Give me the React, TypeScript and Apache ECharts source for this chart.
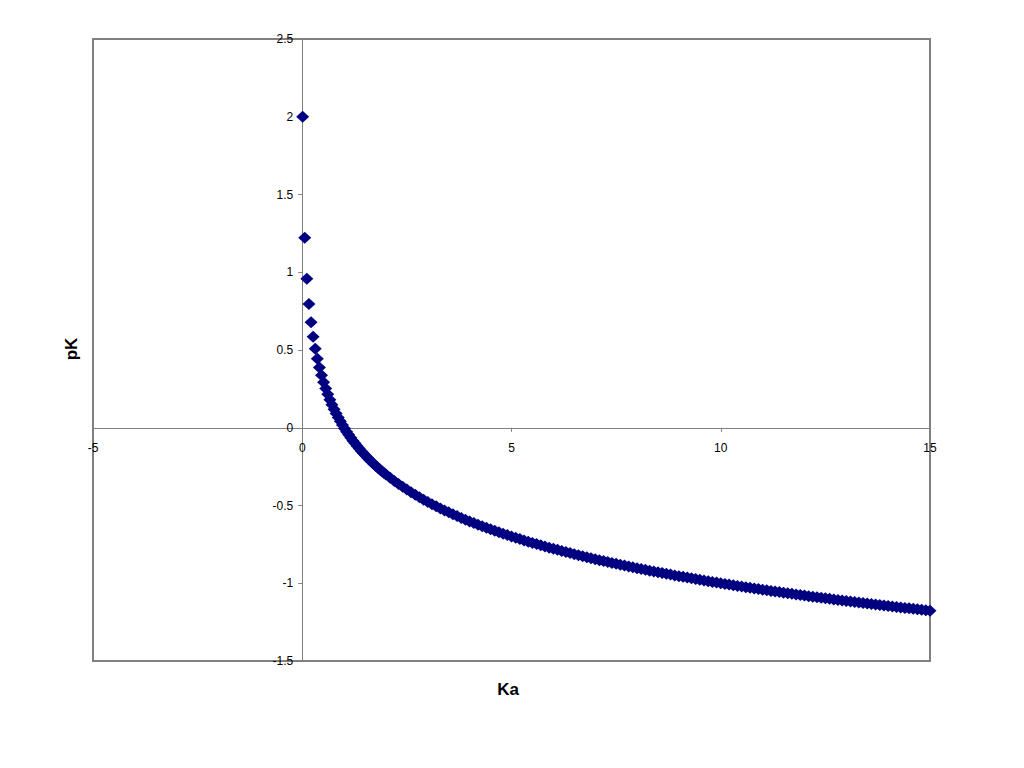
import React, { useEffect, useRef } from "react";
import * as echarts from "echarts";

// Ka values (x) and pK values (y)
const kaLow = [
  0.01, 0.06, 0.11, 0.16, 0.21, 0.26, 0.31, 0.36, 0.41, 0.46,
  0.51, 0.56, 0.61, 0.66, 0.71, 0.76, 0.81, 0.86, 0.91, 0.96,
  1.01, 1.06, 1.11, 1.16, 1.21, 1.26, 1.31, 1.36, 1.41, 1.46,
  1.51, 1.56, 1.61, 1.66, 1.71, 1.76, 1.81, 1.86, 1.91, 1.96,
];
const pkLow = [
  2.0, 1.2218, 0.9586, 0.7959, 0.6778, 0.585, 0.5086, 0.4437, 0.3872, 0.3372,
  0.2924, 0.2518, 0.2147, 0.1805, 0.1487, 0.1192, 0.0915, 0.0655, 0.041, 0.0177,
  -0.0043, -0.0253, -0.0453, -0.0645, -0.0828, -0.1004, -0.1173, -0.1335, -0.1492, -0.1644,
  -0.179, -0.1931, -0.2068, -0.2201, -0.233, -0.2455, -0.2577, -0.2695, -0.281, -0.2923,
];

const kaHigh = [
  2.0, 2.1, 2.2, 2.3, 2.4, 2.5, 2.6, 2.7, 2.8, 2.9,
  3.0, 3.1, 3.2, 3.3, 3.4, 3.5, 3.6, 3.7, 3.8, 3.9,
  4.0, 4.1, 4.2, 4.3, 4.4, 4.5, 4.6, 4.7, 4.8, 4.9,
  5.0, 5.1, 5.2, 5.3, 5.4, 5.5, 5.6, 5.7, 5.8, 5.9,
  6.0, 6.1, 6.2, 6.3, 6.4, 6.5, 6.6, 6.7, 6.8, 6.9,
  7.0, 7.1, 7.2, 7.3, 7.4, 7.5, 7.6, 7.7, 7.8, 7.9,
  8.0, 8.1, 8.2, 8.3, 8.4, 8.5, 8.6, 8.7, 8.8, 8.9,
  9.0, 9.1, 9.2, 9.3, 9.4, 9.5, 9.6, 9.7, 9.8, 9.9,
  10.0, 10.1, 10.2, 10.3, 10.4, 10.5, 10.6, 10.7, 10.8, 10.9,
  11.0, 11.1, 11.2, 11.3, 11.4, 11.5, 11.6, 11.7, 11.8, 11.9,
  12.0, 12.1, 12.2, 12.3, 12.4, 12.5, 12.6, 12.7, 12.8, 12.9,
  13.0, 13.1, 13.2, 13.3, 13.4, 13.5, 13.6, 13.7, 13.8, 13.9,
  14.0, 14.1, 14.2, 14.3, 14.4, 14.5, 14.6, 14.7, 14.8, 14.9,
  15.0,
];
const pkHigh = [
  -0.301, -0.3222, -0.3424, -0.3617, -0.3802, -0.3979, -0.415, -0.4314, -0.4472, -0.4624,
  -0.4771, -0.4914, -0.5051, -0.5185, -0.5315, -0.5441, -0.5563, -0.5682, -0.5798, -0.5911,
  -0.6021, -0.6128, -0.6232, -0.6335, -0.6435, -0.6532, -0.6628, -0.6721, -0.6812, -0.6902,
  -0.699, -0.7076, -0.716, -0.7243, -0.7324, -0.7404, -0.7482, -0.7559, -0.7634, -0.7709,
  -0.7782, -0.7853, -0.7924, -0.7993, -0.8062, -0.8129, -0.8195, -0.8261, -0.8325, -0.8388,
  -0.8451, -0.8513, -0.8573, -0.8633, -0.8692, -0.8751, -0.8808, -0.8865, -0.8921, -0.8976,
  -0.9031, -0.9085, -0.9138, -0.9191, -0.9243, -0.9294, -0.9345, -0.9395, -0.9445, -0.9494,
  -0.9542, -0.959, -0.9638, -0.9685, -0.9731, -0.9777, -0.9823, -0.9868, -0.9912, -0.9956,
  -1.0, -1.0043, -1.0086, -1.0128, -1.017, -1.0212, -1.0253, -1.0294, -1.0334, -1.0374,
  -1.0414, -1.0453, -1.0492, -1.0531, -1.0569, -1.0607, -1.0645, -1.0682, -1.0719, -1.0755,
  -1.0792, -1.0828, -1.0864, -1.0899, -1.0934, -1.0969, -1.1004, -1.1038, -1.1072, -1.1106,
  -1.1139, -1.1173, -1.1206, -1.1239, -1.1271, -1.1303, -1.1335, -1.1367, -1.1399, -1.143,
  -1.1461, -1.1492, -1.1523, -1.1553, -1.1584, -1.1614, -1.1644, -1.1673, -1.1703, -1.1732,
  -1.1761,
];

const xTitle = "Ka";
const yTitle = "pK";

const X_MIN = -5;
const X_MAX = 15;
const Y_MIN = -1.5;
const Y_MAX = 2.5;

export default function App() {
  const ref = useRef<HTMLDivElement>(null);

  useEffect(() => {
    if (!ref.current) return;
    const chart = echarts.init(ref.current, null, { renderer: "svg" });
    const ka = [...kaLow, ...kaHigh];
    const pk = [...pkLow, ...pkHigh];
    const data = ka.map((x, i) => [x, pk[i]]);
    const font = "'Liberation Sans', Arial, sans-serif";

    const gridLeft = 93;
    const gridTop = 39;
    const gridRight = 94;
    const gridBottom = 107;
    const gw = 1024 - gridLeft - gridRight;
    const gh = 768 - gridTop - gridBottom;
    // move axes so they cross at the origin (labels follow)
    const xOffset = -(gh * (0 - Y_MIN)) / (Y_MAX - Y_MIN);
    const yOffset = -(gw * (0 - X_MIN)) / (X_MAX - X_MIN);

    chart.setOption({
      animation: false,
      backgroundColor: "#ffffff",
      grid: {
        left: gridLeft,
        top: gridTop,
        right: gridRight,
        bottom: gridBottom,
        show: true,
        borderColor: "#808080",
        borderWidth: 2,
        backgroundColor: "transparent",
      },
      xAxis: {
        type: "value",
        min: X_MIN,
        max: X_MAX,
        interval: 5,
        position: "bottom",
        offset: xOffset,
        axisLine: { show: true, onZero: false, lineStyle: { color: "#808080", width: 1 } },
        axisTick: { show: true, length: 4, lineStyle: { color: "#808080" } },
        splitLine: { show: false },
        axisLabel: { color: "#000", fontSize: 12, fontFamily: font, margin: 14 },
      },
      yAxis: {
        type: "value",
        min: Y_MIN,
        max: Y_MAX,
        interval: 0.5,
        position: "left",
        offset: yOffset,
        axisLine: { show: true, onZero: false, lineStyle: { color: "#808080", width: 1 } },
        axisTick: { show: true, length: 4, lineStyle: { color: "#808080" } },
        splitLine: { show: false },
        axisLabel: { color: "#000", fontSize: 12, fontFamily: font, margin: 9 },
      },
      graphic: [
        {
          type: "text",
          x: 508,
          y: 689,
          style: {
            text: xTitle,
            fontSize: 17,
            fontWeight: "bold",
            fontFamily: font,
            fill: "#000",
            align: "center",
            verticalAlign: "middle",
          },
        },
        {
          type: "text",
          x: 71,
          y: 349,
          rotation: Math.PI / 2,
          style: {
            text: yTitle,
            fontSize: 17,
            fontWeight: "bold",
            fontFamily: font,
            fill: "#000",
            align: "center",
            verticalAlign: "middle",
          },
        },
      ],
      series: [
        {
          type: "scatter",
          data,
          symbol: "diamond",
          symbolSize: [13, 12],
          clip: false,
          itemStyle: { color: "#000080", opacity: 1 },
        },
      ],
    });

    return () => chart.dispose();
  }, []);

  return (
    <div
      ref={ref}
      style={{ position: "fixed", left: 0, top: 0, width: 1024, height: 768 }}
    />
  );
}
